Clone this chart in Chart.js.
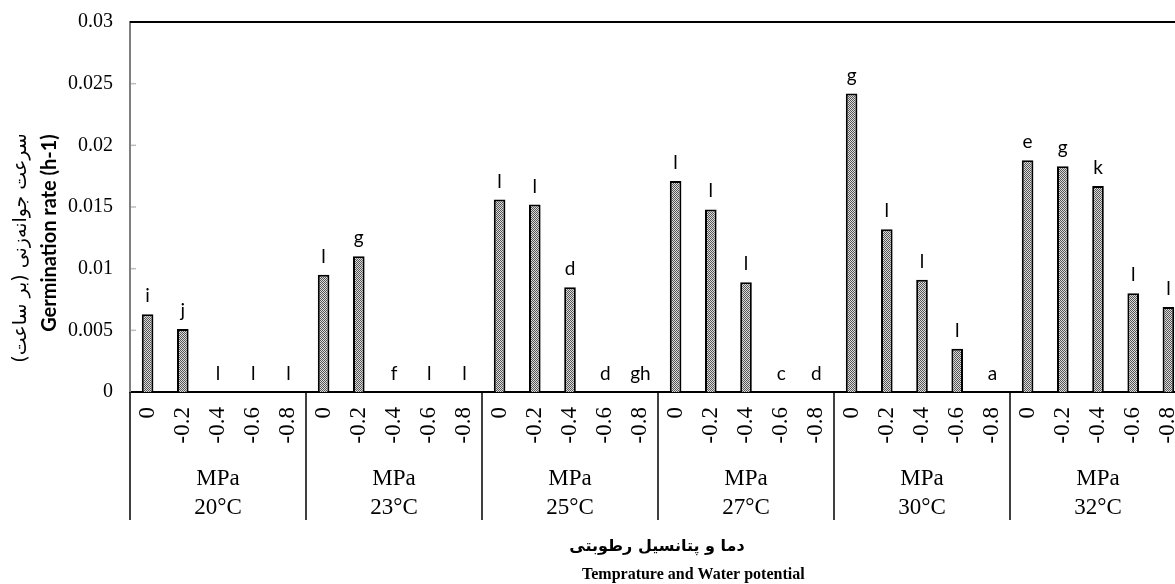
<!DOCTYPE html>
<html><head><meta charset="utf-8">
<script src="https://cdn.jsdelivr.net/npm/chart.js@4.4.1/dist/chart.umd.min.js"></script>
<style>
html,body{margin:0;padding:0;background:#fff;overflow:hidden;width:1175px;height:584px;}
#wrap{position:relative;width:1200px;height:584px;}
</style></head><body>
<div id="wrap"><canvas id="c"></canvas></div>
<script>
// ---- data ----
const temperatures = ["20°C","23°C","25°C","27°C","30°C","32°C"];
const potentials = ["0","-0.2","-0.4","-0.6","-0.8"];
const rate20 = [0.0063,0.0051,0,0,0];
const rate23 = [0.0095,0.0110,0,0,0];
const rate25 = [0.0156,0.0152,0.0085,0,0];
const rate27 = [0.0171,0.0148,0.0089,0,0];
const rate30 = [0.0242,0.0132,0.0091,0.0035,0];
const rate32 = [0.0188,0.0183,0.0167,0.0080,0.0069];
const letters20 = ["i","j","l","l","l"];
const letters23 = ["l","g","f","l","l"];
const letters25 = ["l","l","d","d","gh"];
const letters27 = ["l","l","l","c","d"];
const letters30 = ["g","l","l","l","a"];
const letters32 = ["e","g","k","l","l"];
const yTickLabels = ["0","0.005","0.01","0.015","0.02","0.025","0.03"];
const yTitleFa = "سرعت جوانه‌زنی (بر ساعت)";
const yTitleEn = "Germination rate (h-1)";
const xTitleFa = "دما و پتانسیل رطوبتی";
const xTitleEn = "Temprature and Water potential";
const groupUnit = "MPa";

const categories = [].concat(...temperatures.map(() => potentials));
const values = [].concat(rate20, rate23, rate25, rate27, rate30, rate32);
const letters = [].concat(letters20, letters23, letters25, letters27, letters30, letters32);

// ---- pattern fill ----
const pc = document.createElement('canvas');
pc.width = 2; pc.height = 2;
const pctx = pc.getContext('2d');
pctx.fillStyle = '#dcdcdc'; pctx.fillRect(0,0,2,2);
pctx.fillStyle = '#555555'; pctx.fillRect(0,0,1,1); pctx.fillRect(1,1,1,1);
const ctx0 = document.getElementById('c').getContext('2d');
const pattern = ctx0.createPattern(pc, 'repeat');

const serif = "'Liberation Serif','Times New Roman',serif";

const decor = {
  id: 'decor',
  afterDatasetsDraw(chart) {
    const ctx = chart.ctx;
    const meta = chart.getDatasetMeta(0);
    ctx.save();
    ctx.fillStyle = '#000';
    ctx.font = "19px Lato, 'Open Sans', sans-serif";
    ctx.textAlign = 'center';
    ctx.textBaseline = 'alphabetic';
    meta.data.forEach((bar, i) => {
      ctx.fillText(letters[i], bar.x, bar.y - 12);
    });
    ctx.restore();
  },
  afterDraw(chart) {
    const ctx = chart.ctx;
    const area = chart.chartArea;
    const xs = chart.scales.x, ys = chart.scales.y;
    ctx.save();
    // top & right border
    ctx.strokeStyle = '#000'; ctx.lineWidth = 2;
    ctx.beginPath();
    ctx.moveTo(area.left, area.top); ctx.lineTo(area.right, area.top); ctx.lineTo(area.right, area.bottom);
    ctx.stroke();
    // inward y tick marks
    ctx.strokeStyle = '#bdbdbd'; ctx.lineWidth = 1.5;
    for (let i = 1; i < yTickLabels.length - 1; i++) {
      const y = ys.getPixelForValue(parseFloat(yTickLabels[i]));
      ctx.beginPath(); ctx.moveTo(area.left + 1, y); ctx.lineTo(area.left + 6, y); ctx.stroke();
    }
    // group separators & labels
    const step = xs.getPixelForValue(1) - xs.getPixelForValue(0);
    ctx.strokeStyle = '#000'; ctx.lineWidth = 1.5;
    const n = potentials.length;
    for (let g = 0; g <= temperatures.length; g++) {
      const x = g < temperatures.length ? xs.getPixelForValue(g * n) - step / 2
                                         : xs.getPixelForValue(g * n - 1) + step / 2;
      ctx.beginPath(); ctx.moveTo(x, area.bottom); ctx.lineTo(x, area.bottom + 128); ctx.stroke();
    }
    ctx.fillStyle = '#000';
    ctx.font = "23px " + serif;
    ctx.textAlign = 'center'; ctx.textBaseline = 'middle';
    temperatures.forEach((t, g) => {
      const cx = (xs.getPixelForValue(g * n) + xs.getPixelForValue(g * n + n - 1)) / 2;
      ctx.fillText(groupUnit, cx, area.bottom + 87);
      ctx.fillText(t, cx, area.bottom + 116);
    });
    // x titles
    ctx.font = "bold 16px 'DejaVu Sans', sans-serif";
    ctx.fillText(xTitleFa, 657, 547);
    ctx.font = "bold 16px " + serif;
    ctx.textAlign = 'left';
    ctx.fillText(xTitleEn, 582, 575);
    // y titles
    ctx.textAlign = 'center';
    ctx.save();
    ctx.translate(50, 233); ctx.rotate(-Math.PI / 2);
    ctx.font = "bold 20px Lato, 'Open Sans', sans-serif";
    ctx.fillText(yTitleEn, 0, 0);
    ctx.restore();
    ctx.save();
    ctx.translate(21, 248); ctx.rotate(-Math.PI / 2);
    ctx.font = "19px 'DejaVu Sans', sans-serif";
    ctx.fillText(yTitleFa, 0, 0);
    ctx.restore();
    ctx.restore();
  }
};

new Chart(ctx0, {
  type: 'bar',
  data: {
    labels: categories,
    datasets: [{
      data: values,
      backgroundColor: pattern,
      borderColor: '#000',
      borderWidth: 2,
      barPercentage: 0.33,
      categoryPercentage: 1.0
    }]
  },
  options: {
    responsive: true,
    maintainAspectRatio: false,
    animation: false,
    devicePixelRatio: 1,
    layout: { padding: { top: 22, right: 14, left: 0, bottom: 0 } },
    plugins: { legend: { display: false }, tooltip: { enabled: false }, title: { display: false } },
    scales: {
      x: {
        type: 'category',
        grid: { display: false, drawTicks: false },
        border: { display: true, color: '#000', width: 2 },
        ticks: {
          color: '#000', font: { family: serif, size: 23 },
          minRotation: 90, maxRotation: 90, autoSkip: false, padding: 15
        },
        afterFit(scale) { scale.height = 192; scale.paddingLeft = 0; scale.paddingRight = 0; }
      },
      y: {
        min: 0, max: 0.03,
        grid: { display: false, drawTicks: false },
        border: { display: true, color: '#7f7f7f', width: 2 },
        ticks: {
          stepSize: 0.005, color: '#000', font: { family: serif, size: 20 }, padding: 17,
          callback: (v, i) => yTickLabels[i]
        },
        afterFit(scale) { scale.width = 130; scale.paddingTop = 0; scale.paddingBottom = 0; }
      }
    }
  },
  plugins: [decor]
});
</script>
</body></html>
